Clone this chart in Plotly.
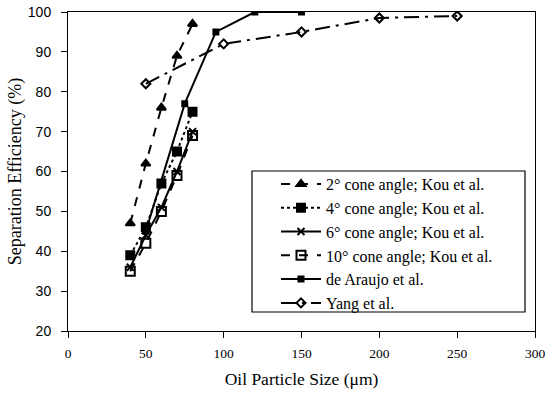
import plotly.graph_objects as go

kou_x = [40, 50, 60, 70, 80]
eff_2deg = [47, 62, 76, 89, 97]
eff_4deg = [39, 46, 57, 65, 75]
eff_6deg = [36, 44, 51, 60, 70]
eff_10deg = [35, 42, 50, 59, 69]
araujo_x = [50, 75, 95, 120, 150]
araujo_y = [45, 77, 95, 100, 100]
yang_x = [50, 100, 150, 200, 250]
yang_y = [82, 92, 95, 98.5, 99]

serif = "Liberation Serif"
series = [
    ("2° cone angle; Kou et al.", kou_x, eff_2deg, "dash", "triangle-up", 8),
    ("4° cone angle; Kou et al.", kou_x, eff_4deg, "dot", "square", 8),
    ("6° cone angle; Kou et al.", kou_x, eff_6deg, "solid", "x-thin", 7),
    ("10° cone angle; Kou et al.", kou_x, eff_10deg, "dash", "square-open", 9),
    ("de Araujo et al.", araujo_x, araujo_y, "solid", "square", 5),
    ("Yang et al.", yang_x, yang_y, "longdashdot", "diamond-open", 7),
]

fig = go.Figure()
for name, x, y, dash, sym, size in series:
    fig.add_trace(go.Scatter(
        x=x, y=y, name=name, mode="lines+markers",
        line=dict(color="black", width=2, dash=dash),
        marker=dict(symbol=sym, size=size, color="black",
                    line=dict(color="black", width=2)),
    ))

# plot area in px: x 68..535, y 12..331
def px_x(p):
    return (p - 68) / 467.0

def px_y(p):
    return (331 - p) / 319.0

fig.add_shape(type="rect", xref="paper", yref="paper",
              x0=px_x(252), x1=px_x(525), y0=px_y(312), y1=px_y(171),
              line=dict(color="black", width=1.2), fillcolor="white", layer="below")

fig.update_layout(
    width=550, height=396,
    margin=dict(l=68, r=15, t=12, b=65),
    paper_bgcolor="white", plot_bgcolor="rgba(0,0,0,0)",
    font=dict(family=serif, size=14, color="black"),
    showlegend=True,
    legend=dict(x=px_x(276), y=px_y(167), xanchor="left", yanchor="top",
                borderwidth=0, bgcolor="rgba(0,0,0,0)",
                font=dict(family=serif, size=16), tracegroupgap=0,
                itemwidth=40),
    xaxis=dict(range=[0, 300], tickvals=[0, 50, 100, 150, 200, 250, 300],
               showgrid=False, zeroline=False, showline=True, automargin=False,
               linecolor="black", linewidth=1, mirror=True,
               ticks="outside", ticklen=6, tickcolor="black",
               ticklabelstandoff=4,
               tickfont=dict(family=serif, size=13.5),
               title=dict(text="Oil Particle Size (μm)",
                          font=dict(family=serif, size=17.5), standoff=12)),
    yaxis=dict(range=[20, 100], tickvals=[20, 30, 40, 50, 60, 70, 80, 90, 100],
               showgrid=False, zeroline=False, showline=True, automargin=False,
               linecolor="black", linewidth=1, mirror=True,
               ticks="outside", ticklen=6, tickcolor="black",
               ticklabelstandoff=7,
               tickfont=dict(family="Liberation Sans", size=14),
               title=dict(text="Separation Efficiency (%)",
                          font=dict(family=serif, size=18), standoff=1)),
)

fig.write_html("out.html", config={"displayModeBar": False},
               post_script="document.body.style.margin='0';document.body.style.overflow='hidden';")
